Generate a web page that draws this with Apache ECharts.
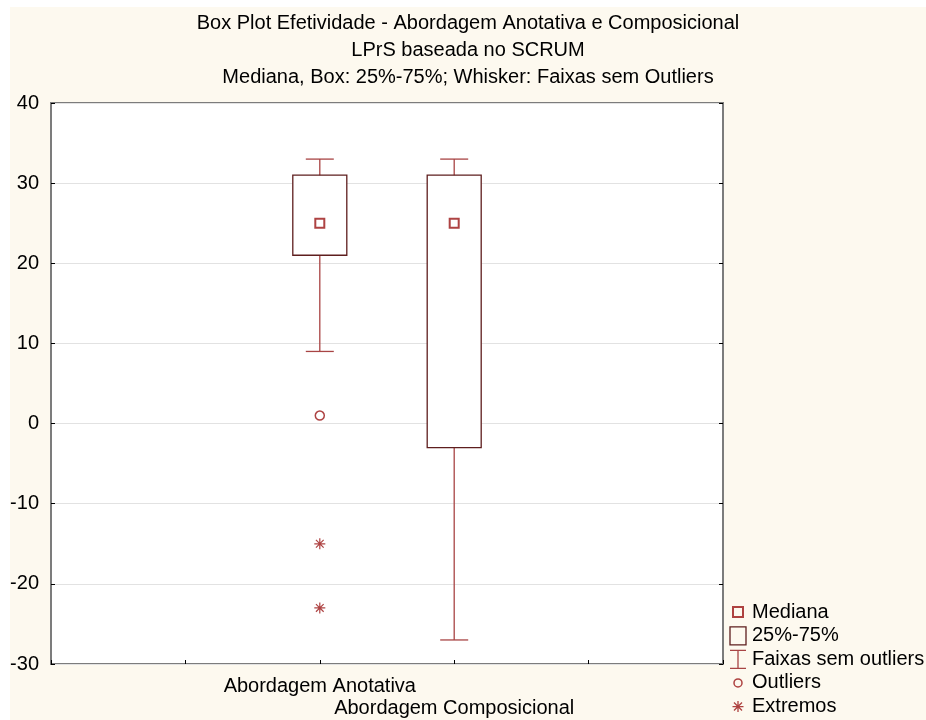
<!DOCTYPE html>
<html>
<head>
<meta charset="utf-8">
<script src="https://cdn.jsdelivr.net/npm/echarts@6/dist/echarts.min.js"></script>
<style>
html,body{margin:0;padding:0;background:#ffffff;}
#c{position:absolute;left:10px;top:7px;width:916px;height:713px;}
</style>
</head>
<body>
<div id="c"></div>
<script>
// ---- data ----
const categories = ['Abordagem Anotativa', 'Abordagem Composicional'];
const whiskerLow = [9, -27];
const q1 = [21, -3];
const median = [25, 25];
const q3 = [31, 31];
const whiskerHigh = [33, 33];
const outliers = [[0, 1]];                 // [category index, value]
const extremes = [[0, -15], [0, -23]];     // [category index, value]
const yMin = -30, yMax = 40, yStep = 10;
const titleLines = [
  'Box Plot Efetividade - Abordagem Anotativa e Composicional',
  'LPrS baseada no SCRUM',
  'Mediana, Box: 25%-75%; Whisker: Faixas sem Outliers'
];
const legendNames = ['Mediana', '25%-75%', 'Faixas sem outliers', 'Outliers', 'Extremos'];

// ---- layout helpers ----
const LEAD = 2;                           // empty slots before the categories
const xSlots = ['', '', ...categories, '', ''];
const slot = i => i + LEAD;
const FONT = "'Liberation Sans', Arial, sans-serif";
const FS = 20;
const BOX_HALF = 27, CAP_HALF = 14;
const BOX_COLOR = '#5e1e1e', WHISK_COLOR = '#a84444', MARK_COLOR = '#9a1414';

const boxData = categories.map((c, i) => [slot(i), q1[i], q3[i]]);
const whiskData = categories.map((c, i) => [slot(i), whiskerLow[i], whiskerHigh[i]]);
const medianData = categories.map((c, i) => [slot(i), median[i]]);
const outlierData = outliers.map(d => [slot(d[0]), d[1]]);
const extremeData = extremes.map(d => [slot(d[0]), d[1]]);

const chart = echarts.init(document.getElementById('c'));
const option = {
  backgroundColor: '#fdf9ef',
  animation: false,
  title: {
    text: titleLines.join('\n'),
    left: 'center',
    top: 0,
    padding: [3, 0, 0, 12],
    textStyle: { fontFamily: FONT, fontSize: FS, fontWeight: 'normal', color: '#000', lineHeight: 27 }
  },
  legend: {
    orient: 'vertical',
    left: 718,
    top: 594,
    height: 119,
    padding: 0,
    itemWidth: 18,
    itemHeight: 20,
    itemGap: 2.2,
    selectedMode: false,
    textStyle: { fontFamily: FONT, fontSize: FS, color: '#000', lineHeight: 20 },
    data: [
      { name: legendNames[0], icon: 'path://M0 0M18 20M4 5H14V15H4Z',
        itemStyle: { color: 'rgba(0,0,0,0)', borderColor: MARK_COLOR, borderWidth: 2 } },
      { name: legendNames[1], icon: 'path://M0 0M18 20M1 1H17V19H1Z',
        itemStyle: { color: 'rgba(0,0,0,0)', borderColor: BOX_COLOR, borderWidth: 1.3 } },
      { name: legendNames[2], icon: 'path://M0 0M18 20M1 1H17M9 1V19M1 19H17',
        itemStyle: { color: 'rgba(0,0,0,0)', borderColor: WHISK_COLOR, borderWidth: 1.3 } },
      { name: legendNames[3], icon: 'path://M0 0M18 20M13 10A4 4 0 1 1 5 10A4 4 0 1 1 13 10Z',
        itemStyle: { color: 'rgba(0,0,0,0)', borderColor: MARK_COLOR, borderWidth: 1.5 } },
      { name: legendNames[4], icon: 'path://M0 0M18 20M3.5 10H14.5M9 4.5V15.5M5 6L13 14M13 6L5 14',
        itemStyle: { color: 'rgba(0,0,0,0)', borderColor: MARK_COLOR, borderWidth: 1.3 } }
    ]
  },
  grid: {
    left: 41, top: 96, right: 203, bottom: 56,
    show: true, backgroundColor: '#ffffff', borderColor: '#7c7c7c', borderWidth: 2,
    containLabel: false,
    outerBoundsMode: 'none'
  },
  xAxis: {
    type: 'category',
    data: xSlots,
    boundaryGap: false,
    axisLine: { show: false, onZero: false },
    axisTick: { show: true, inside: true, length: 4, interval: 0, lineStyle: { color: '#000', width: 1 } },
    axisLabel: {
      interval: 0, margin: 11, fontFamily: FONT, fontSize: FS, color: '#000', lineHeight: 22,
      formatter: (v, i) => (i === slot(1) ? '\n' + v : v)
    },
    splitLine: { show: false }
  },
  yAxis: [
    {
      type: 'value', min: yMin, max: yMax, interval: yStep,
      axisLine: { show: false },
      axisTick: { show: true, inside: true, length: 4, lineStyle: { color: '#000', width: 1 } },
      axisLabel: { margin: 12, fontFamily: FONT, fontSize: FS, color: '#000' },
      splitLine: { show: true, lineStyle: { color: '#e2e2e2', width: 1 } }
    },
    {
      type: 'value', min: yMin, max: yMax, interval: yStep, position: 'right',
      axisLine: { show: false },
      axisTick: { show: true, inside: true, length: 4, lineStyle: { color: '#000', width: 1 } },
      axisLabel: { show: false },
      splitLine: { show: false }
    }
  ],
  series: [
    {
      name: legendNames[2],
      type: 'custom',
      data: whiskData,
      renderItem: (params, api) => {
        const x = api.value(0);
        const lo = api.coord([x, api.value(1)]);
        const hi = api.coord([x, api.value(2)]);
        const st = { stroke: WHISK_COLOR, lineWidth: 1.3 };
        return {
          type: 'group',
          children: [
            { type: 'line', shape: { x1: lo[0], y1: lo[1], x2: hi[0], y2: hi[1] }, style: st },
            { type: 'line', shape: { x1: lo[0] - CAP_HALF, y1: lo[1], x2: lo[0] + CAP_HALF, y2: lo[1] }, style: st },
            { type: 'line', shape: { x1: hi[0] - CAP_HALF, y1: hi[1], x2: hi[0] + CAP_HALF, y2: hi[1] }, style: st }
          ]
        };
      }
    },
    {
      name: legendNames[1],
      type: 'custom',
      data: boxData,
      renderItem: (params, api) => {
        const x = api.value(0);
        const a = api.coord([x, api.value(1)]);
        const b = api.coord([x, api.value(2)]);
        return {
          type: 'rect',
          shape: { x: a[0] - BOX_HALF, y: b[1], width: BOX_HALF * 2, height: a[1] - b[1] },
          style: { fill: '#ffffff', stroke: BOX_COLOR, lineWidth: 1.3 }
        };
      }
    },
    {
      name: legendNames[0],
      type: 'scatter',
      data: medianData,
      symbol: 'rect',
      symbolSize: 9,
      itemStyle: { color: '#ffffff', borderColor: MARK_COLOR, borderWidth: 2 },
      z: 5
    },
    {
      name: legendNames[3],
      type: 'scatter',
      data: outlierData,
      symbol: 'circle',
      symbolSize: 9,
      itemStyle: { color: 'rgba(0,0,0,0)', borderColor: MARK_COLOR, borderWidth: 1.5 },
      z: 5
    },
    {
      name: legendNames[4],
      type: 'scatter',
      data: extremeData,
      symbol: 'path://M0 5H10M5 0V10M1.5 1.5L8.5 8.5M8.5 1.5L1.5 8.5',
      symbolSize: 11,
      itemStyle: { color: 'rgba(0,0,0,0)', borderColor: MARK_COLOR, borderWidth: 1.2 },
      z: 5
    }
  ]
};
chart.setOption(option);
</script>
</body>
</html>
